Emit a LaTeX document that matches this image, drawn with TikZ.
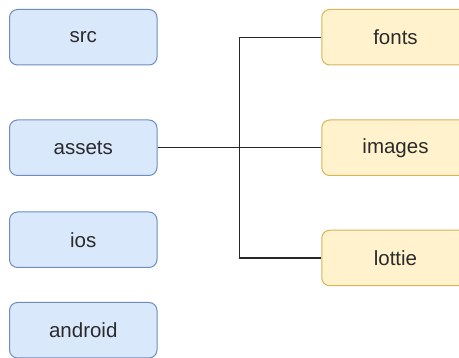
\documentclass[tikz,border=0pt]{standalone}
\usepackage{fontspec}
\setmainfont{Liberation Sans}
\definecolor{bluefill}{HTML}{DAE8FC}
\definecolor{bluedraw}{HTML}{6C8EBF}
\definecolor{yelfill}{HTML}{FFF2CC}
\definecolor{yeldraw}{HTML}{D6B656}
\definecolor{txt}{HTML}{2B2B2B}
\tikzset{
  box/.style={rounded corners=8pt, minimum width=147.5pt, minimum height=55.5pt, inner sep=0pt, line width=1pt, text=txt, font=\fontsize{20.5}{24}\selectfont},
  bluebox/.style={box, fill=bluefill, draw=bluedraw},
  yelbox/.style={box, fill=yelfill, draw=yeldraw},
  conn/.style={line width=1.2pt, draw=black!85, line join=miter}
}
\begin{document}
\begin{tikzpicture}[x=1pt,y=-1pt]
\useasboundingbox (0,0) rectangle (459,358);
\clip (0,0) rectangle (459,358);
\node[bluebox] (src) at (83.25,37.25) {src};
\node[bluebox] (assets) at (83.25,147.75) {assets};
\node[bluebox] (ios) at (83.25,239.75) {ios};
\node[bluebox] (android) at (83.25,330.25) {android};
\node[yelbox] (fonts) at (395.5,37.25) {fonts};
\node[yelbox] (images) at (395.5,147.75) {images};
\node[yelbox] (lottie) at (395.5,258) {lottie};
\coordinate (top) at (239.3,37.25);
\coordinate (bot) at (239.3,258);
\draw[conn] (assets.east) -- (images.west);
\draw[conn] (fonts.west) -- (top) -- (bot) -- (lottie.west);
\end{tikzpicture}
\end{document}
